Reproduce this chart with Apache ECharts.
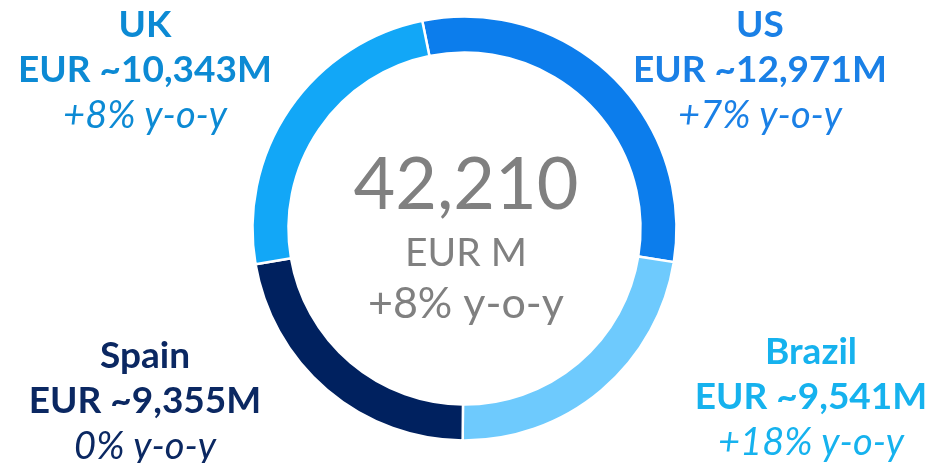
<!DOCTYPE html>
<html>
<head>
<meta charset="utf-8">
<script src="https://cdn.jsdelivr.net/npm/echarts@6/dist/echarts.min.js"></script>
<style>
  html, body { margin: 0; padding: 0; background: #fff; }
  #main { width: 932px; height: 463px; }
</style>
</head>
<body>
<div id="main"></div>
<script>
// 数据
var countries = ['US', 'Brazil', 'Spain', 'UK']
var revenue = [12971, 9541, 9355, 10343]
var yoyText = ['+7% y-o-y', '+18% y-o-y', '0% y-o-y', '+8% y-o-y']
var totalText = ['42,210', 'EUR M', '+8% y-o-y']

var sliceColors = ['#0c7dec', '#6ecafd', '#00215f', '#12a7f7']
var textColors = ['#1a80e6', '#16b2ee', '#0b2862', '#0c8ad4']
// label anchor (center x, top y) per slice
var labelPos = [[760, 3], [811, 330], [145, 334], [145, 3]]

var font = 'Lato'
var chart = echarts.init(document.getElementById('main'))

function fmt(n) {
  return n.toString().replace(/\B(?=(\d{3})+(?!\d))/g, ',')
}

var rich = {}
countries.forEach(function (c, i) {
  rich['n' + i] = { fontFamily: font, fontWeight: 'bold', fontSize: 37, lineHeight: 45, color: textColors[i], align: 'center' }
  rich['v' + i] = { fontFamily: font, fontWeight: 'bold', fontSize: 37, lineHeight: 45, color: textColors[i], align: 'center' }
  rich['y' + i] = { fontFamily: font, fontWeight: 'normal', fontStyle: 'italic', fontSize: 38, lineHeight: 45, color: textColors[i], align: 'center' }
})

chart.setOption({
  animation: false,
  series: [
    {
      type: 'pie',
      center: [464.5, 228.5],
      radius: [176, 212],
      startAngle: 101.5,
      clockwise: true,
      itemStyle: { borderColor: '#fff', borderWidth: 2.5 },
      label: {
        show: true,
        overflow: 'none',
        formatter: function (p) {
          var i = p.dataIndex
          return '{n' + i + '|' + countries[i] + '}\n{v' + i + '|EUR ~' + fmt(revenue[i]) + 'M}\n{y' + i + '|' + yoyText[i] + '}'
        },
        rich: rich
      },
      labelLine: { show: false },
      labelLayout: function (p) {
        var pos = labelPos[p.dataIndex]
        return { x: pos[0], y: pos[1], align: 'center', verticalAlign: 'top', moveOverlap: false, hideOverlap: false }
      },
      emphasis: { disabled: true },
      data: countries.map(function (c, i) {
        return { name: c, value: revenue[i], itemStyle: { color: sliceColors[i] } }
      })
    }
  ],
  graphic: [
    { type: 'text', left: 'center', top: 150, style: { text: totalText[0], font: 'normal 72px ' + font, fill: '#808080' } },
    { type: 'text', left: 'center', top: 234, style: { text: totalText[1], font: 'normal 39px ' + font, fill: '#808080' } },
    { type: 'text', left: 'center', top: 283, style: { text: totalText[2], font: 'normal 43px ' + font, fill: '#808080' } }
  ]
})
</script>
</body>
</html>
